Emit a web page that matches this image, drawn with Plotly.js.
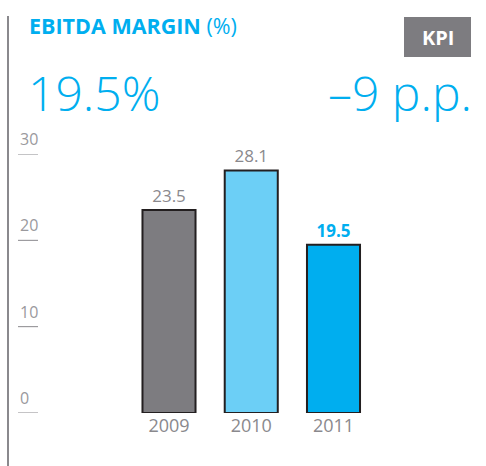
<!DOCTYPE html>
<html>
<head>
<meta charset="utf-8">
<script src="https://cdn.plot.ly/plotly-3.0.1.min.js"></script>
<style>
html,body{margin:0;padding:0;background:#fff;}
#chart{width:486px;height:466px;}
</style>
</head>
<body>
<div id="chart"></div>
<script>
// ---- data ----
const years = ['2009', '2010', '2011'];
const margins = [23.5, 28.1, 19.5];
const yTicks = [0, 10, 20, 30];
const yTickLabels = ['0', '10', '20', '30'];
const headline = '19.5%';
const change = '\u20139 p.p.';
const titleMain = 'EBITDA MARGIN';
const titleUnit = '(%)';
const badge = 'KPI';

// ---- styles ----
const barColors = ['#7d7c80', '#6ccff6', '#00aeef'];
const valueColors = ['#8a898d', '#8a898d', '#00aeef'];
const cyan = '#00aeef';
const FONT = 'Open Sans, sans-serif';

// plot geometry (pixels)
const W = 486, H = 466;
const PL = 18, PR = 466, PT = 154, PB = 413;
const px = x => (x - PL) / (PR - PL);
const py = y => (PB - y) / (PB - PT);

const trace = {
  type: 'bar',
  x: years,
  y: margins,
  width: 0.645,
  marker: {color: barColors, line: {color: '#231f20', width: 2}},
  text: margins.map(v => v.toFixed(1)),
  texttemplate: margins.map((v, i) => i === margins.length - 1 ? '<b>%{text}</b>' : '%{text}'),
  textposition: 'outside',
  cliponaxis: false,
  textfont: {family: FONT, size: 17, color: valueColors},
  hoverinfo: 'skip'
};

const annotations = [];
const shapes = [];
// y tick labels above short tick lines
yTicks.forEach((t, i) => {
  annotations.push({
    xref: 'paper', yref: 'y', x: 0, y: t, xanchor: 'left', yanchor: 'bottom',
    yshift: 2, showarrow: false, text: yTickLabels[i],
    font: {family: FONT, size: 16, color: '#9a999d'}
  });
  shapes.push({
    type: 'line', xref: 'paper', yref: 'y', x0: px(18), x1: px(38), y0: t, y1: t,
    line: {color: '#8a898d', width: 1}
  });
});
// title
annotations.push({
  xref: 'paper', yref: 'paper', x: px(27), y: py(25), xanchor: 'left', yanchor: 'middle',
  showarrow: false, text: '<b>' + titleMain + '</b> ' + titleUnit,
  font: {family: FONT, size: 21.5, color: cyan}
});
// headline numbers
annotations.push({
  xref: 'paper', yref: 'paper', x: px(26), y: py(92), xanchor: 'left', yanchor: 'middle',
  showarrow: false, text: headline,
  font: {family: FONT, size: 48, color: cyan, weight: 300}
});
annotations.push({
  xref: 'paper', yref: 'paper', x: px(474), y: py(92), xanchor: 'right', yanchor: 'middle',
  showarrow: false, text: change,
  font: {family: FONT, size: 48, color: cyan, weight: 300}
});
// KPI badge
annotations.push({
  xref: 'paper', yref: 'paper', x: px(437.5), y: py(37), xanchor: 'center', yanchor: 'middle',
  showarrow: false, text: '<b>' + badge + '</b>',
  font: {family: FONT, size: 20, color: '#ffffff'}
});

// left vertical rule
shapes.push({type: 'line', xref: 'paper', yref: 'paper', x0: px(8), x1: px(8), y0: py(16), y1: py(466),
  line: {color: '#8a898d', width: 2}});
// KPI box
shapes.push({type: 'rect', xref: 'paper', yref: 'paper', x0: px(404), x1: px(471), y0: py(17), y1: py(57),
  fillcolor: '#7d7c80', line: {width: 0}, layer: 'below'});

const layout = {
  width: W, height: H,
  margin: {l: PL, r: W - PR, t: PT, b: H - PB, pad: 0},
  paper_bgcolor: '#ffffff', plot_bgcolor: '#ffffff',
  showlegend: false,
  font: {family: FONT},
  xaxis: {
    type: 'category', range: [-1.836, 3.611], fixedrange: true,
    showgrid: false, zeroline: false, showline: false, ticks: '',
    tickfont: {family: FONT, size: 18, color: '#8a898d'}
  },
  yaxis: {
    range: [0, 30], showticklabels: false, ticks: '',
    showgrid: false, zeroline: false, showline: false, fixedrange: true
  },
  annotations: annotations,
  shapes: shapes
};

Plotly.newPlot('chart', [trace], layout, {displayModeBar: false, staticPlot: true});
</script>
</body>
</html>
